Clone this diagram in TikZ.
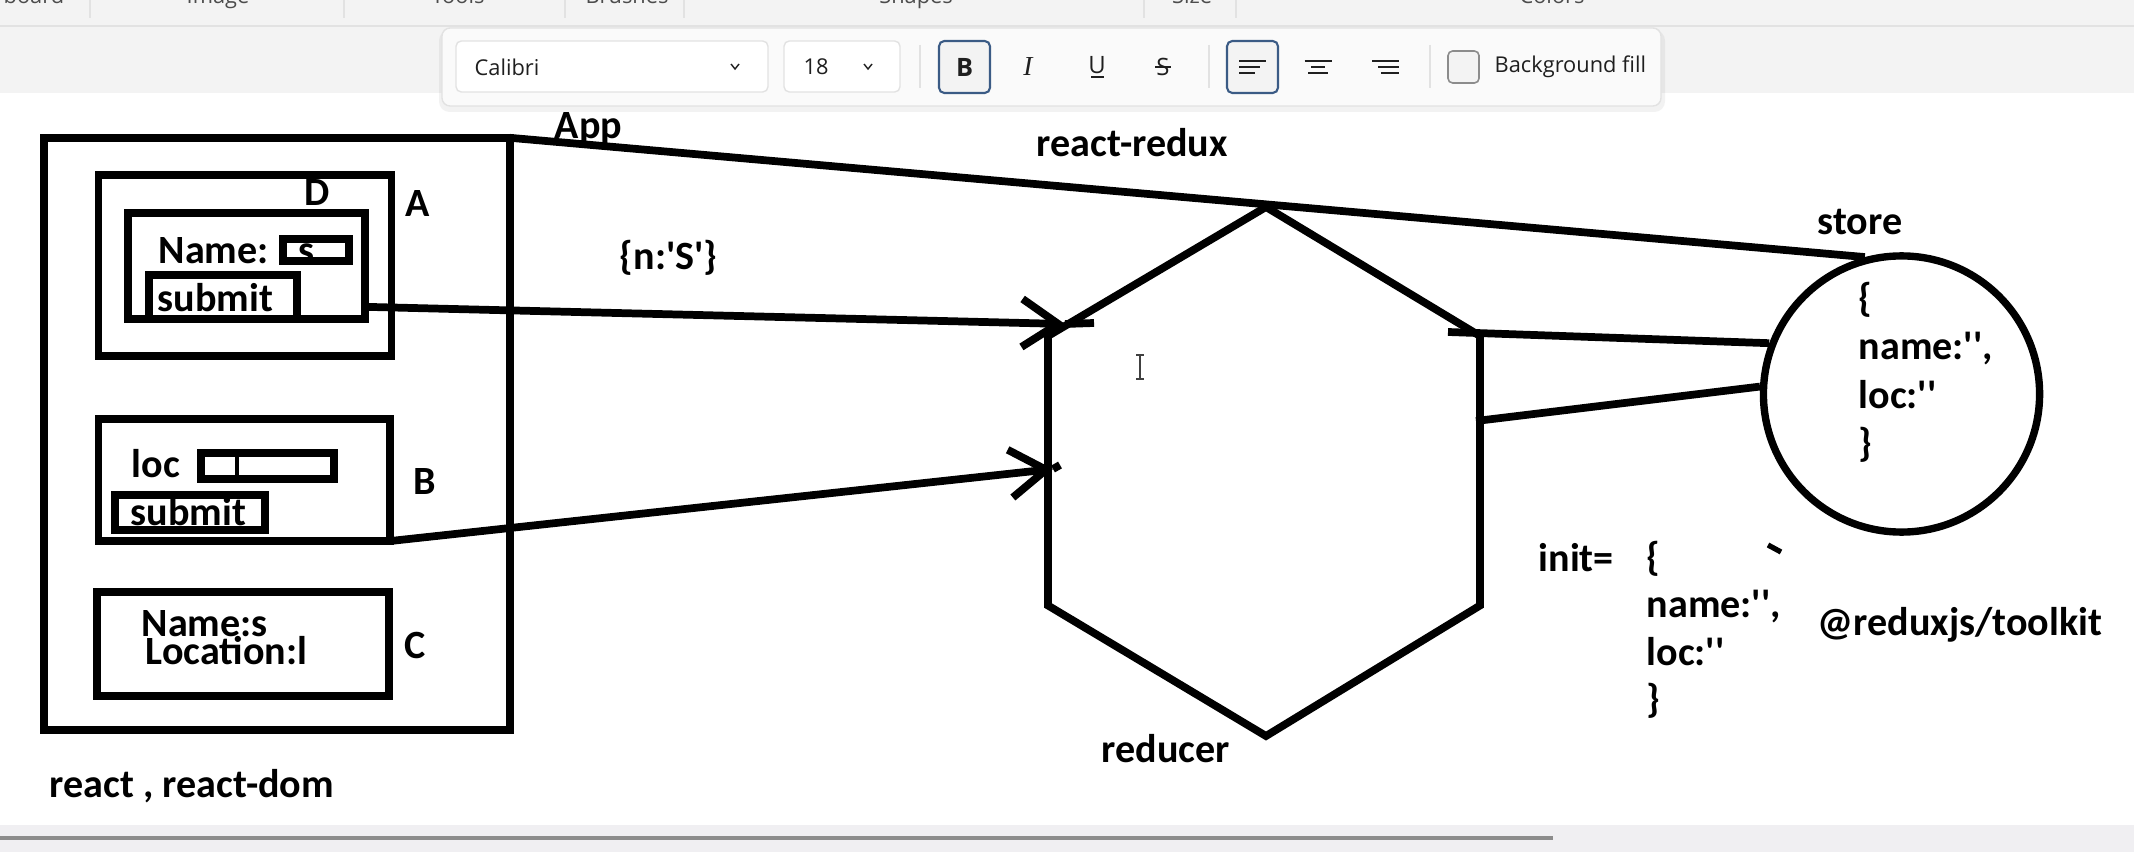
\documentclass[tikz,border=0pt]{standalone}
\usepackage{fontspec}
\usepackage{tikz}
\usetikzlibrary{arrows.meta}
\newfontfamily\calibri{Carlito}
\newfontfamily\uifont{Open Sans}
\newfontfamily\uiserif{Liberation Serif}
\definecolor{ribbon}{HTML}{F3F3F3}
\definecolor{barline}{HTML}{E2E2E2}
\definecolor{uiblue}{HTML}{3B5B85}
\definecolor{uitext}{HTML}{1F1F1F}
\definecolor{scrollgray}{HTML}{8C8C8C}
\definecolor{bottomgray}{HTML}{F0EFF2}
\tikzstyle{box}=[draw, line width=2.2pt, inner sep=0pt, outer sep=0pt]
\tikzstyle{hand}=[font=\calibri\bfseries\fontsize{11.4}{13}\selectfont, inner sep=0pt, anchor=base west]
\tikzstyle{wire}=[draw=black, line width=2.2pt]
\tikzstyle{arrow}=[wire, -{Straight Barb[length=3.6mm, width=4.8mm]}]
\tikzstyle{ui}=[font=\uifont\fontsize{6.2}{7}\selectfont, text=uitext, inner sep=0pt]
\tikzstyle{uibox}=[draw=barline, fill=white, rounded corners=1.5pt, line width=0.4pt]
\tikzstyle{uibutton}=[draw=uiblue, fill=ribbon, rounded corners=1.5pt, line width=0.6pt]
\tikzstyle{uiline}=[draw=uitext, line width=0.6pt]
\tikzstyle{uisep}=[draw=barline, line width=0.4pt]

\begin{document}
\begin{tikzpicture}[x=0.01cm, y=-0.01cm]
		   \useasboundingbox (0,0) rectangle (2134,852);
		   \begin{scope}
			   \fill[ribbon] (0,0) rectangle (2134,93);
			   \draw[barline] (0,26) -- (2134,26);
			   \fill[white] (0,93) rectangle (2134,825);
			   \fill[bottomgray] (0,825) rectangle (2134,852);
			   \draw[scrollgray, line width=0.95pt] (0,838) -- (1553,838);
			   \draw[uisep] (90,0) -- (90,18);
			   \draw[uisep] (344,0) -- (344,18);
			   \draw[uisep] (565,0) -- (565,18);
			   \draw[uisep] (684,0) -- (684,18);
			   \draw[uisep] (1144,0) -- (1144,18);
			   \draw[uisep] (1236,0) -- (1236,18);
			   \node[ui, text=uitext!80, anchor=base west] (rbClip) at (3,4) {board};
			   \node[ui, text=uitext!80, anchor=base] (rbImage) at (218,4) {Image};
			   \node[ui, text=uitext!80, anchor=base] (rbTools) at (458,4) {Tools};
			   \node[ui, text=uitext!80, anchor=base] (rbBrushes) at (627,4) {Brushes};
			   \node[ui, text=uitext!80, anchor=base] (rbShapes) at (916,4) {Shapes};
			   \node[ui, text=uitext!80, anchor=base] (rbSize) at (1192,4) {Size};
			   \node[ui, text=uitext!80, anchor=base] (rbColors) at (1552,4) {Colors};
		   \end{scope}
		   \begin{scope}
			   \fill[black, opacity=0.05, rounded corners=3pt] (439,30) rectangle (1665,112);
			   \draw[draw=barline, fill=white!60!ribbon, rounded corners=2.3pt, line width=0.4pt] (442,28) rectangle (1661,106);
			   \draw[uibox] (456,41) rectangle (768,92);
			   \node[ui, anchor=west] (fontName) at (474,67) {Calibri};
			   \draw[uiline, line width=0.4pt] (731,64) -- (735,69) -- (739,64);
			   \draw[uibox] (784,41) rectangle (900,92);
			   \node[ui, anchor=west] (fontSize) at (803,67) {18};
			   \draw[uiline, line width=0.4pt] (864,64) -- (868,69) -- (872,64);
			   \draw[uisep] (920,45) -- (920,88);
			   \draw[uibutton] (939,41) rectangle (990,93);
			   \node[ui, font=\uifont\bfseries\fontsize{7.2}{8}\selectfont] (boldBtn) at (964.5,67) {B};
			   \node[ui, font=\uiserif\itshape\fontsize{7.8}{8}\selectfont] (italicBtn) at (1028,67) {I};
			   \node[ui, font=\uifont\fontsize{6.8}{8}\selectfont] (underBtn) at (1097,65) {U};
			   \draw[uiline, line width=0.5pt] (1091,77) -- (1104,77);
			   \node[ui, font=\uifont\fontsize{6.8}{8}\selectfont] (strikeBtn) at (1163,67) {S};
			   \draw[uiline, line width=0.5pt] (1155,67) -- (1171,67);
			   \draw[uisep] (1209,45) -- (1209,88);
			   \draw[uibutton] (1227,41) rectangle (1278,93);
			   \draw[uiline] (1239,61) -- (1266,61);
			   \draw[uiline] (1239,67) -- (1260,67);
			   \draw[uiline] (1239,73) -- (1255,73);
			   \draw[uiline] (1304.5,61) -- (1331.5,61);
			   \draw[uiline] (1311,67) -- (1325,67);
			   \draw[uiline] (1308,73) -- (1328,73);
			   \draw[uiline] (1372,61) -- (1399,61);
			   \draw[uiline] (1378,67) -- (1399,67);
			   \draw[uiline] (1381,73) -- (1399,73);
			   \draw[uisep] (1430,45) -- (1430,88);
			   \draw[draw=scrollgray, fill=ribbon, rounded corners=1.3pt, line width=0.45pt] (1448,51) rectangle (1479,83);
			   \node[ui, anchor=west] (bgFill) at (1494,67) {Background fill};
		   \end{scope}
		   \begin{scope}
			   \node[box, minimum width=4.655cm, minimum height=5.92cm] (app) at (277.25,434) {};
			   \node[box, minimum width=2.93cm, minimum height=1.81cm] (boxA) at (245,265.5) {};
			   \node[box, minimum width=2.37cm, minimum height=1.06cm] (boxD) at (246.5,266) {};
			   \node[box, minimum width=0.66cm, minimum height=0.22cm] (nameField) at (316,250) {};
			   \node[box, minimum width=1.48cm, minimum height=0.44cm] (submitD) at (223,297) {};
			   \node[box, minimum width=2.915cm, minimum height=1.22cm] (boxB) at (244.25,480) {};
			   \node[box, minimum width=1.33cm, minimum height=0.26cm] (locField) at (267.5,466) {};
			   \node[box, minimum width=1.50cm, minimum height=0.35cm] (submitB) at (190,512.5) {};
			   \node[box, minimum width=2.92cm, minimum height=1.04cm] (boxC) at (243,644) {};
			   \node[draw, circle, line width=2.1pt, minimum size=2.76cm, inner sep=0pt] (store) at (1901.5,394) {};
			   \coordinate (hexTop) at (1266,207);
			   \coordinate (hexLT) at (1048,336);
			   \coordinate (hexLB) at (1048,605.5);
			   \coordinate (hexBot) at (1266,736);
			   \coordinate (hexRB) at (1480,605.5);
			   \coordinate (hexRT) at (1480,336);
			   \draw[wire] (hexTop) -- (hexLT) -- (hexLB) -- (hexBot) -- (hexRB) -- (hexRT) -- cycle;
		   \end{scope}
		   \begin{scope}
			   \coordinate (tipD) at (1065,324);
			   \coordinate (overD) at (1094,323);
			   \coordinate (tipB) at (1053,469);
			   \coordinate (overB) at (1060,465);
			   \coordinate (hexOut) at (1448,332);
			   \coordinate (hexSide) at (1476,421);
			   \draw[arrow] (boxD.-19) -- (tipD);
			   \path[wire] (tipD) -- (overD);
			   \draw[arrow] (boxB.south east) -- (tipB);
			   \path[wire] (tipB) -- (overB);
			   \path[wire] (app.north east) -- (store.105);
			   \path[wire] (hexOut) -- (store.159);
			   \path[wire] (hexSide) -- (store.177);
		   \end{scope}
		   \begin{scope}
			   \node[hand] (appLbl) at (554,139) {App};
			   \node[hand] (reduxLbl) at (1036,157) {react-redux};
			   \node[hand] (payload) at (619,270) {\{n:'S'\}};
			   \node[hand] (dLbl) at (304,206) {D};
			   \node[hand] (aLbl) at (405,217) {A};
			   \node[hand] (nameTxt) at (158,264) {Name:};
			   \begin{scope}
				   \clip (287,243) rectangle (345,257);
				   \node[hand] (nameVal) at (298,264) {s};
			   \end{scope}
			   \node[hand] (submitDTxt) at (157,311) {submit};
			   \node[hand] (locTxt) at (131,477) {loc};
			   \draw[line width=1.1pt] (236.7,457) -- (236.7,475);
			   \node[hand] (submitBTxt) at (130,525) {submit};
			   \node[hand] (bLbl) at (413,494) {B};
			   \node[hand] (cName) at (141,636) {Name:s};
			   \node[hand] (cLoc) at (145,664) {Location:l};
			   \node[hand] (cLbl) at (404,658) {C};
			   \node[hand] (libLbl) at (49,797) {react , react-dom};
			   \node[hand] (storeLbl) at (1817,235) {store};
			   \node[hand] (st1) at (1858,312) {\{};
			   \node[hand] (st2) at (1858,360) {name:'',};
			   \node[hand] (st3) at (1858,408) {loc:''};
			   \node[hand] (st4) at (1858,456) {\}};
			   \node[hand] (initLbl) at (1538,571) {init=};
			   \node[hand] (in1) at (1646,570) {\{};
			   \node[hand] (in2) at (1646,617) {name:'',};
			   \node[hand] (in3) at (1646,665) {loc:''};
			   \node[hand] (in4) at (1646,712) {\}};
			   \node[hand] (rtkLbl) at (1817,635) {@reduxjs/toolkit};
			   \node[hand] (reducerLbl) at (1101,762) {reducer};
			   \draw[line width=1.5pt] (1768,545) -- (1781,552);
			   \draw[black!75, line width=0.5pt] (1140,355) -- (1140,379);
			   \draw[black!75, line width=0.5pt] (1136,355) -- (1144,355);
			   \draw[black!75, line width=0.5pt] (1136,379) -- (1144,379);
		   \end{scope}
	   \end{tikzpicture}
\end{document}
